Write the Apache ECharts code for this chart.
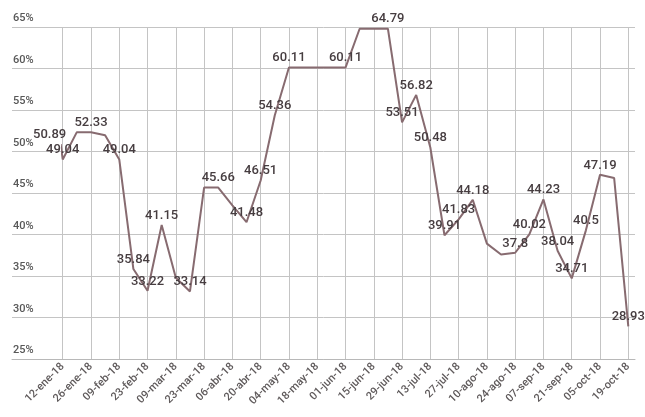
<!DOCTYPE html>
<html>
<head>
<meta charset="utf-8">
<script src="https://cdn.jsdelivr.net/npm/echarts@6/dist/echarts.min.js"></script>
<style>
  html, body { margin: 0; padding: 0; background: #ffffff; }
  #chart { width: 645px; height: 417px; }
</style>
</head>
<body>
<div id="chart"></div>
<script>
// Fortnightly tick labels along the date axis
const tickLabels = [
  '12-ene-18', '26-ene-18', '09-feb-18', '23-feb-18', '09-mar-18', '23-mar-18',
  '06-abr-18', '20-abr-18', '04-may-18', '18-may-18', '01-jun-18', '15-jun-18',
  '29-jun-18', '13-jul-18', '27-jul-18', '10-ago-18', '24-ago-18', '07-sep-18',
  '21-sep-18', '05-oct-18', '19-oct-18'
];

// Day offsets counted from 12-ene-18 (weekly readings, plus 11-ene-18)
const dayOffsets = [
  -1, 0, 7, 14, 21, 28, 35, 42, 49, 56, 63, 70, 77, 84, 91, 98, 105, 112, 119, 126,
  133, 140, 147, 154, 161, 168, 175, 182, 189, 196, 203, 210, 217, 224, 231, 238,
  245, 252, 259, 266, 273, 280
];

// Percentage values
const values = [
  50.89, 49.04, 52.33, 52.33, 51.95, 49.04, 35.84, 33.22, 41.15, 34.8, 33.14,
  45.66, 45.66, 43.5, 41.48, 46.51, 54.36, 60.11, 60.11, 60.11, 60.11, 60.11,
  64.79, 64.79, 64.79, 53.51, 56.82, 50.48, 39.91, 41.83, 44.18, 38.9, 37.6,
  37.8, 40.02, 44.23, 38.04, 34.71, 40.5, 47.19, 46.8, 28.93
];

// 1 where the value is printed next to the line
const printed = [
  1, 1, 0, 1, 0, 1, 1, 1, 1, 0, 1,
  0, 1, 0, 1, 1, 1, 1, 0, 0, 0, 1,
  0, 0, 1, 1, 1, 1, 1, 1, 1, 0, 0,
  1, 1, 1, 1, 1, 1, 1, 0, 1
];

// Y axis range (percent)
const yMin = 25, yMax = 65, yStep = 5;
const dayStep = 14;

const points = values.map((v, i) => {
  const item = { value: [dayOffsets[i], v], label: { show: !!printed[i] } };
  if (i === 0) item.label.offset = [-11, 0];
  return item;
});

const chart = echarts.init(document.getElementById('chart'), null, { renderer: 'canvas' });

const gridColor = '#c4c4c4';
const font = 'Roboto, "Noto Sans", sans-serif';

chart.setOption({
  animation: false,
  backgroundColor: '#ffffff',
  grid: [
    // full-width frame: horizontal rules and the % labels
    { left: 12, right: 10, top: 27, bottom: 58, containLabel: false },
    // data area: fortnightly ticks
    { left: 62.7, right: 16.7, top: 27, bottom: 58, containLabel: false }
  ],
  xAxis: [
    {
      gridIndex: 0, type: 'value', min: 0, max: 1,
      axisLine: { show: true, lineStyle: { color: '#b8b8b8', width: 1 } },
      axisTick: { show: false }, axisLabel: { show: false }, splitLine: { show: false }
    },
    {
      gridIndex: 1, type: 'value', min: 0, max: dayStep * (tickLabels.length - 1), interval: dayStep,
      axisLine: { show: false }, axisTick: { show: false },
      splitLine: { show: true, lineStyle: { color: gridColor, width: 1 } },
      axisLabel: {
        rotate: 45, margin: 6, fontSize: 11, color: '#5f5a5b', fontFamily: font,
        fontWeight: 500, showMinLabel: true, showMaxLabel: true,
        formatter: v => tickLabels[Math.round(v / dayStep)] || ''
      }
    }
  ],
  yAxis: [
    {
      gridIndex: 0, type: 'value', min: yMin, max: yMax, interval: yStep,
      axisLine: { show: false }, axisTick: { show: false },
      splitLine: { show: true, lineStyle: { color: gridColor, width: 1 } },
      axisLabel: {
        inside: true, margin: 1, verticalAlign: 'bottom', padding: [0, 0, 3, 0],
        fontSize: 11, color: '#585858', fontFamily: font, fontWeight: 500,
        formatter: '{value}%'
      }
    },
    {
      gridIndex: 1, type: 'value', min: yMin, max: yMax, interval: yStep, show: false
    }
  ],
  series: [
    {
      type: 'line',
      xAxisIndex: 1, yAxisIndex: 1,
      clip: false,
      data: points,
      symbol: 'circle', symbolSize: 0, showSymbol: true,
      lineStyle: { color: '#876b70', width: 2 },
      itemStyle: { color: '#876b70' },
      label: {
        position: 'top', distance: 3, fontSize: 13, color: '#463d40', fontFamily: font,
        fontWeight: 500,
        formatter: p => String(p.value[1])
      },
      emphasis: { disabled: true }
    }
  ]
});
</script>
</body>
</html>
